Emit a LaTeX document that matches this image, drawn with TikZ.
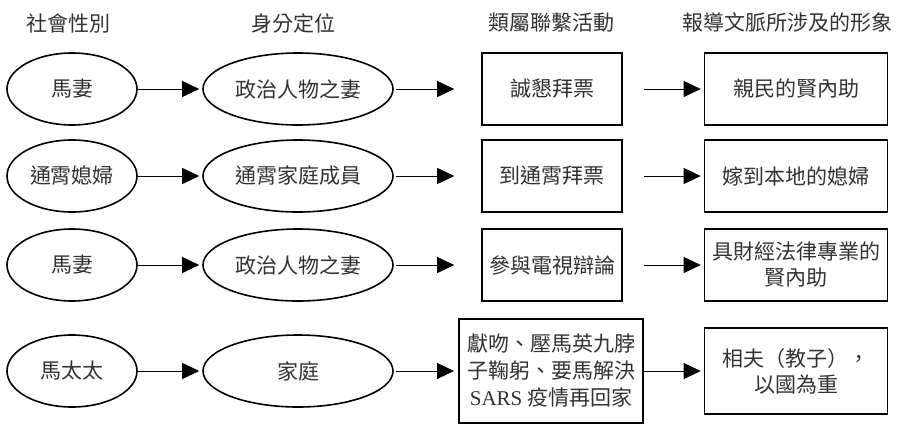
\documentclass[tikz,border=0pt]{standalone}
\usepackage{fontspec}
\setmainfont{Noto Sans CJK TC}
\newfontfamily\latinfont{Liberation Serif}
\usetikzlibrary{shapes.geometric,arrows.meta}

\definecolor{inkText}{RGB}{50,50,50}
\definecolor{inkLine}{RGB}{0,0,0}

\tikzset{
  oval/.style={draw=inkLine, line width=1.6pt, ellipse, inner sep=0pt, minimum height=72pt},
  card/.style={draw=inkLine, line width=1.6pt, rectangle, inner sep=0pt, minimum height=72pt, align=center},
}

\begin{document}
\begin{tikzpicture}[x=1pt, y=-1pt, font=\fontsize{21}{26}\selectfont, text=inkText]
\useasboundingbox (0,0) rectangle (897,424);

% column heads
\node (headGender) at (69,23)  {社會性別};
\node (headRole)   at (293,23) {身分定位};
\node (headAct)    at (551,23) {類屬聯繫活動};
\node (headImage)  at (787,23) {報導文脈所涉及的形象};

\begin{scope}[yshift=-89pt]
\node (gender1) at (72,0)  [oval, minimum width=130pt] {馬妻};
\node (role1)   at (298,0) [oval, minimum width=190pt] {政治人物之妻};
\node (act1)    at (552,0) [card, minimum width=140pt] {誠懇拜票};
\node (image1)  at (796,0) [card, minimum width=183pt] {親民的賢內助};
\end{scope}

\begin{scope}[yshift=-176pt]
\node (gender2) at (72,0)  [oval, minimum width=130pt] {通霄媳婦};
\node (role2)   at (298,0) [oval, minimum width=190pt] {通霄家庭成員};
\node (act2)    at (552,0) [card, minimum width=140pt] {到通霄拜票};
\node (image2)  at (796,0) [card, minimum width=183pt] {嫁到本地的媳婦};
\end{scope}

\begin{scope}[yshift=-265pt]
\node (gender3) at (72,0)  [oval, minimum width=130pt] {馬妻};
\node (role3)   at (298,0) [oval, minimum width=190pt] {政治人物之妻};
\node (act3)    at (552,0) [card, minimum width=140pt] {參與電視辯論};
\node (image3)  at (796,0) [card, minimum width=183pt] {具財經法律專業的\\賢內助};
\end{scope}

\begin{scope}[yshift=-371pt]
\node (gender4) at (72,0)  [oval, minimum width=130pt] {馬太太};
\node (role4)   at (298,0) [oval, minimum width=190pt] {家庭};
\node (act4)    at (551,0) [card, line width=2pt, minimum width=184pt, minimum height=104pt,
                            font=\fontsize{21}{27}\selectfont]
                {獻吻、壓馬英九脖\\子鞠躬、要馬解決\\{\latinfont SARS} 疫情再回家};
\node (image4)  at (796,0) [card, minimum width=183pt, minimum height=86pt] {相夫（教子），\\以國為重};
\end{scope}

\begin{scope}[line width=0.8pt, inkLine, -{Triangle[length=17pt, width=16pt]}]
\foreach \r in {1,2,3,4} {
  \draw[shorten >=3pt] (gender\r) -- (role\r);
}
\foreach \r in {1,2,3} {
  \draw[shorten <=2pt, shorten >=27pt] (role\r) -- (act\r);
  \draw[shorten <=21pt, shorten >=3pt] (act\r) -- (image\r);
}
\draw[shorten <=2pt, shorten >=4pt] (role4) -- (act4);
\draw[shorten >=3pt] (act4) -- (image4);
\end{scope}
\end{tikzpicture}
\end{document}
